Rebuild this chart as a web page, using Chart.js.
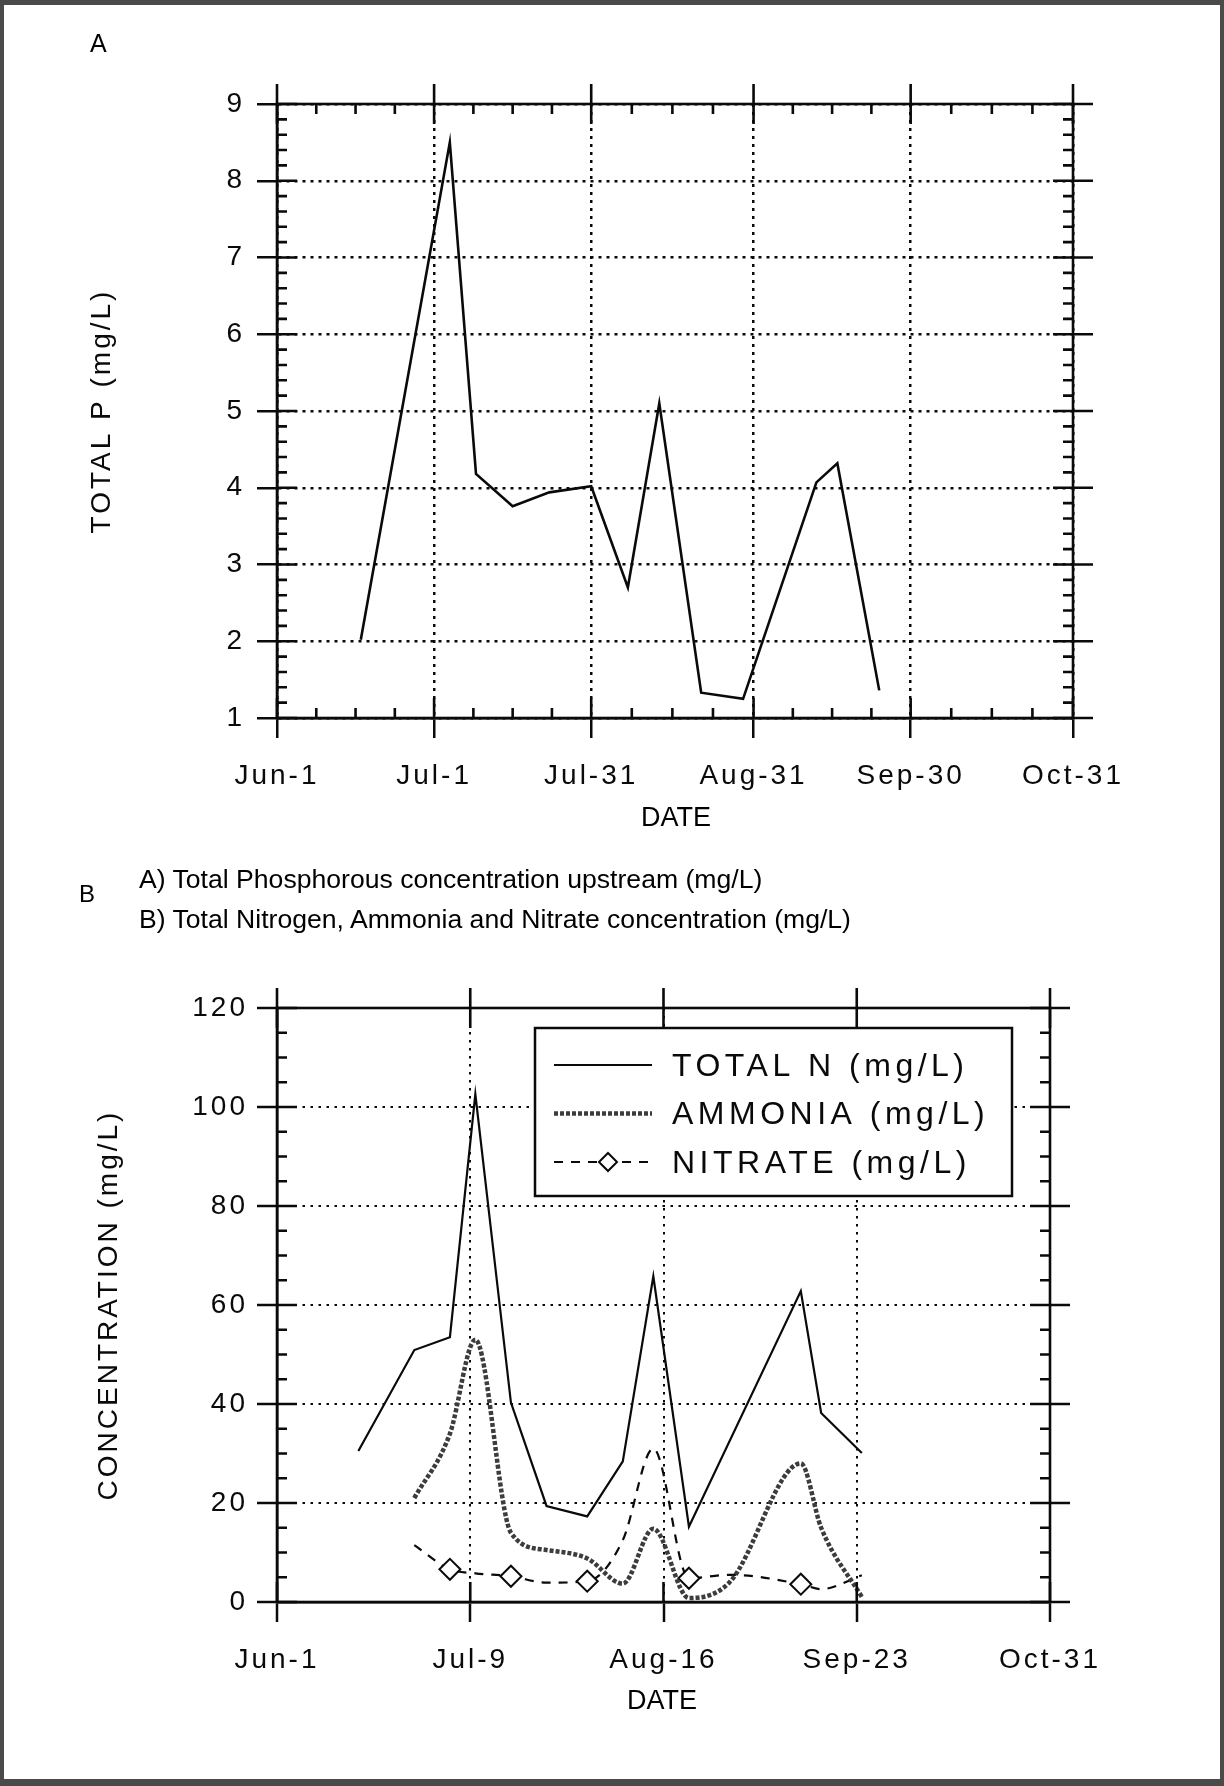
<!DOCTYPE html>
<html>
<head>
<meta charset="utf-8">
<title>Total P, N, ammonia and nitrate</title>
<script src="https://cdn.jsdelivr.net/npm/chart.js@4.4.1/dist/chart.umd.min.js"></script>
<style>
  html, body { margin: 0; padding: 0; background: #fff; }
  #page { position: relative; width: 1224px; height: 1786px; background: #fff; overflow: hidden;
          font-family: "Liberation Sans", Arial, Helvetica, sans-serif; color: #000; }
  #frame { position: absolute; left: 0; top: 0; width: 1224px; height: 1786px; box-sizing: border-box;
           border-style: solid; border-color: #4a4a4a; border-width: 5px 4px 7px 4px; z-index: 5; pointer-events: none; }
  .wrap { position: absolute; left: 0; width: 1224px; }
  .txt { position: absolute; line-height: 1; white-space: nowrap; z-index: 3; }
  .date { transform: translateX(-50%); font-size: 27px; }
</style>
</head>
<body>
<div id="page">
  <div class="wrap" style="top:0;height:860px"><canvas id="chartA" width="1224" height="860"></canvas></div>
  <div class="wrap" style="top:860px;height:926px"><canvas id="chartB" width="1224" height="926"></canvas></div>

  <div class="txt" style="left:90px;top:31px;font-size:25px">A</div>
  <div class="txt" style="left:79px;top:882px;font-size:24px">B</div>
  <div class="txt" style="left:139px;top:866px;font-size:26.6px">A) Total Phosphorous concentration upstream (mg/L)</div>
  <div class="txt" style="left:139px;top:906px;font-size:26.6px">B) Total Nitrogen, Ammonia and Nitrate concentration (mg/L)</div>
  <div class="txt date" style="left:676px;top:804px">DATE</div>
  <div class="txt date" style="left:662px;top:1687px">DATE</div>
  <div id="frame"></div>
</div>

<script>
// ---- panel A: total phosphorous
const phosDates = ["Jun-17", "Jul-4", "Jul-9", "Jul-16", "Jul-23", "Jul-31", "Aug-7", "Aug-13", "Aug-21", "Aug-29", "Sep-12", "Sep-16", "Sep-24"]
const phosValues = [2.02, 8.5, 4.18, 3.76, 3.94, 4.02, 2.7, 5.1, 1.33, 1.25, 4.07, 4.32, 1.36]
const phosTickLabels = ["Jun-1", "Jul-1", "Jul-31", "Aug-31", "Sep-30", "Oct-31"]

// ---- panel B: nitrogen species
const totalNDates = ["Jun-17", "Jun-28", "Jul-5", "Jul-10", "Jul-17", "Jul-24", "Aug-1", "Aug-8", "Aug-14", "Aug-21", "Sep-12", "Sep-16", "Sep-24"]
const totalN = [30.5, 50.9, 53.5, 102.6, 40.3, 19.4, 17.3, 28.4, 65.8, 15.2, 62.8, 38.2, 30.1]
const ammoniaDates = ["Jun-28", "Jul-5", "Jul-10", "Jul-17", "Jul-24", "Aug-1", "Aug-8", "Aug-14", "Aug-21", "Aug-29", "Sep-12", "Sep-16", "Sep-24"]
const ammonia = [21, 34, 53, 14, 10.5, 8.8, 3.7, 14.8, 0.8, 4, 28, 15, 1]
const nitrateDates = ["Jun-28", "Jul-5", "Jul-10", "Jul-17", "Jul-24", "Aug-1", "Aug-8", "Aug-14", "Aug-21", "Aug-29", "Sep-12", "Sep-16", "Sep-24"]
const nitrate = [11.5, 6.6, 5.8, 5.2, 3.9, 4.2, 12.5, 31, 4.8, 5.5, 3.6, 2.6, 5.4]
const nitrateMarked = ["Jul-5", "Jul-17", "Aug-1", "Aug-21", "Sep-12"]
const nitroTickLabels = ["Jun-1", "Jul-9", "Aug-16", "Sep-23", "Oct-31"]

const monthStart = { Jun: 0, Jul: 30, Aug: 61, Sep: 92, Oct: 122 }
const FONT = "'Liberation Sans', Arial, Helvetica, sans-serif"
const INK = "#0a0a0a"

Chart.defaults.font.family = FONT
Chart.defaults.color = INK
Chart.defaults.animation = false

// days since Jun-1
function dayOf(label) {
  let parts = label.split("-")
  return monthStart[parts[0]] + (+parts[1]) - 1
}

function points(dates, values) {
  return dates.map((d, i) => ({ x: dayOf(d), y: values[i] }))
}

// solid frame, crossing major ticks and short minor ticks (old plotting-package look)
const frameTicks = {
  id: "frameTicks",
  beforeDraw(chart, args, opts) {
    chart.ctx.letterSpacing = opts.spacing
  },
  afterDatasetsDraw(chart, args, opts) {
    const ctx = chart.ctx
    const { left, right, top, bottom } = chart.chartArea
    const xScale = chart.scales.x
    const yScale = chart.scales.y
    ctx.save()
    ctx.setLineDash([])
    ctx.strokeStyle = INK
    ctx.lineWidth = opts.lineWidth
    ctx.strokeRect(left, top, right - left, bottom - top)
    ctx.beginPath()
    let xs = xScale.ticks.map(t => xScale.getPixelForValue(t.value))
    xs.forEach(px => {
      ctx.moveTo(px, top - 20); ctx.lineTo(px, top + 20)
      ctx.moveTo(px, bottom - 20); ctx.lineTo(px, bottom)
    })
    if (opts.xDivisions) {
      for (let i = 1; i < xs.length; i++) {
        for (let k = 1; k < opts.xDivisions; k++) {
          let px = xs[i - 1] + (xs[i] - xs[i - 1]) * k / opts.xDivisions
          ctx.moveTo(px, top); ctx.lineTo(px, top + 10)
          ctx.moveTo(px, bottom); ctx.lineTo(px, bottom - 10)
        }
      }
    }
    yScale.ticks.forEach(t => {
      let py = yScale.getPixelForValue(t.value)
      ctx.moveTo(left, py); ctx.lineTo(left + 20, py)
      ctx.moveTo(right - 20, py); ctx.lineTo(right + 20, py)
    })
    let steps = Math.round((yScale.max - yScale.min) / opts.yMinorStep)
    let perMajor = Math.round(yScale.options.ticks.stepSize / opts.yMinorStep)
    for (let i = 1; i < steps; i++) {
      if (i % perMajor === 0) continue
      let py = yScale.getPixelForValue(yScale.min + i * opts.yMinorStep)
      ctx.moveTo(left, py); ctx.lineTo(left + 10, py)
      ctx.moveTo(right, py); ctx.lineTo(right - 10, py)
    }
    ctx.stroke()
    ctx.restore()
  }
}

// boxed legend inside the plot of panel B
const boxLegend = {
  id: "boxLegend",
  afterDraw(chart) {
    const ctx = chart.ctx
    const area = chart.chartArea
    const bx = area.left + 258
    const by = area.top + 20
    const bw = 477
    const bh = 168
    ctx.save()
    ctx.setLineDash([])
    ctx.fillStyle = "#fff"
    ctx.fillRect(bx, by, bw, bh)
    ctx.lineWidth = 2.5
    ctx.strokeStyle = INK
    ctx.strokeRect(bx, by, bw, bh)
    ctx.font = "32px " + FONT
    ctx.letterSpacing = "4.5px"
    ctx.textBaseline = "middle"
    chart.data.datasets.forEach((ds, i) => {
      let rowY = by + 37 + i * 48.5
      ctx.beginPath()
      ctx.setLineDash(ds.borderDash || [])
      ctx.lineWidth = ds.borderWidth
      ctx.strokeStyle = ds.borderColor
      ctx.moveTo(bx + 19, rowY)
      ctx.lineTo(bx + 117, rowY)
      ctx.stroke()
      if (ds.pointStyle === "rectRot") {
        let cx = bx + 73
        let r = 9
        ctx.setLineDash([])
        ctx.lineWidth = 2
        ctx.strokeStyle = INK
        ctx.fillStyle = "#fff"
        ctx.beginPath()
        ctx.moveTo(cx, rowY - r); ctx.lineTo(cx + r, rowY); ctx.lineTo(cx, rowY + r); ctx.lineTo(cx - r, rowY)
        ctx.closePath()
        ctx.fill()
        ctx.stroke()
      }
      ctx.fillStyle = INK
      ctx.fillText(ds.label, bx + 137, rowY + 2)
    })
    ctx.restore()
  }
}

function xAxis(labels, gridWidth, dots, height) {
  return {
    type: "linear",
    min: 0,
    max: 152,
    afterBuildTicks: s => { s.ticks = labels.map(l => ({ value: dayOf(l) })) },
    afterFit: s => { s.height = height },
    ticks: { autoSkip: false, maxRotation: 0, padding: 21, font: { size: 28 }, color: INK,
             callback: (v, i) => labels[i] },
    grid: { color: INK, lineWidth: gridWidth, tickLength: 20, tickColor: INK, tickWidth: 2.5 },
    border: { display: true, color: INK, width: 2.5, dash: dots },
    title: { display: false }
  }
}

function yAxis(min, max, step, title, gridWidth, dots, titlePad, tickPad) {
  return {
    min: min,
    max: max,
    afterFit: s => { s.width = 277 },
    ticks: { stepSize: step, padding: tickPad, font: { size: 28 }, color: INK },
    grid: { color: INK, lineWidth: gridWidth, tickLength: 20, tickColor: INK, tickWidth: 2.5 },
    border: { display: true, color: INK, width: 2.5, dash: dots },
    title: { display: true, text: title, color: INK, font: { size: 28 }, padding: { top: titlePad, bottom: 0 } }
  }
}

const chartA = new Chart(document.querySelector("#chartA"), {
  type: "line",
  data: {
    datasets: [{
      label: "TOTAL P (mg/L)",
      data: points(phosDates, phosValues),
      borderColor: INK,
      borderWidth: 2.6,
      pointRadius: 0,
      tension: 0
    }]
  },
  options: {
    responsive: false,
    layout: { padding: { top: 104, right: 151, bottom: 0, left: 0 } },
    scales: {
      x: xAxis(phosTickLabels, 2.5, [3, 5], 142),
      y: yAxis(1, 9, 1, "TOTAL P (mg/L)", 2.5, [3, 5], 85, 12)
    },
    plugins: {
      legend: { display: false },
      tooltip: { enabled: false },
      frameTicks: { spacing: "3px", lineWidth: 2.6, xDivisions: 4, yMinorStep: 0.2 }
    }
  },
  plugins: [frameTicks]
})

const chartB = new Chart(document.querySelector("#chartB"), {
  type: "line",
  data: {
    datasets: [{
      label: "TOTAL N (mg/L)",
      data: points(totalNDates, totalN),
      borderColor: INK,
      borderWidth: 2.2,
      pointRadius: 0,
      tension: 0
    }, {
      label: "AMMONIA (mg/L)",
      data: points(ammoniaDates, ammonia),
      borderColor: "#3c3c3c",
      borderWidth: 4.5,
      borderDash: [4, 2],
      pointRadius: 0,
      cubicInterpolationMode: "monotone"
    }, {
      label: "NITRATE (mg/L)",
      data: points(nitrateDates, nitrate),
      borderColor: INK,
      borderWidth: 2.2,
      borderDash: [9, 8],
      cubicInterpolationMode: "monotone",
      pointStyle: "rectRot",
      pointRadius: c => nitrateMarked.includes(nitrateDates[c.dataIndex]) ? 10.5 : 0,
      pointBackgroundColor: "#fff",
      pointBorderColor: INK,
      pointBorderWidth: 2
    }]
  },
  options: {
    responsive: false,
    layout: { padding: { top: 148, right: 174, bottom: 0, left: 0 } },
    scales: {
      x: xAxis(nitroTickLabels, 2, [2.5, 5.5], 184),
      y: yAxis(0, 120, 20, "CONCENTRATION (mg/L)", 2, [2.5, 5.5], 92, 9)
    },
    plugins: {
      legend: { display: false },
      tooltip: { enabled: false },
      frameTicks: { spacing: "3px", lineWidth: 2.6, xDivisions: 0, yMinorStep: 5 }
    }
  },
  plugins: [frameTicks, boxLegend]
})
</script>
</body>
</html>
